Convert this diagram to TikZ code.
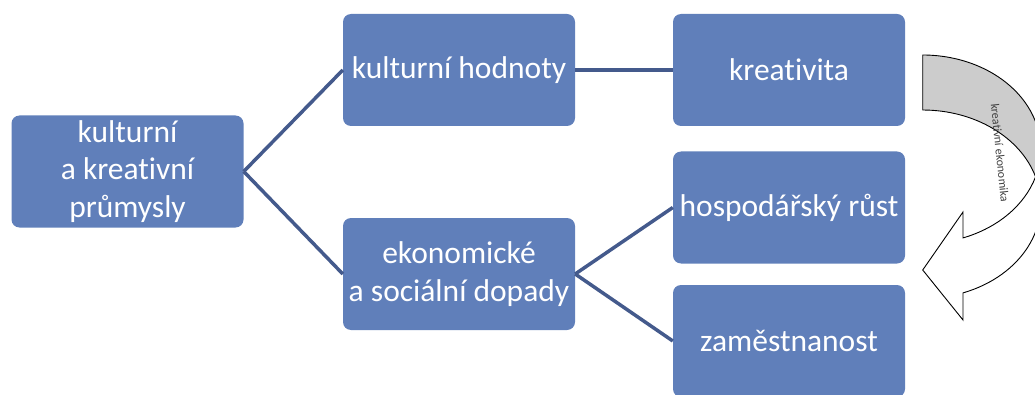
\documentclass[tikz,border=0pt]{standalone}
\usepackage{fontspec}
\setmainfont{Carlito}[Ligatures=NoCommon]
\definecolor{modra}{RGB}{96,127,186}
\definecolor{spojnice}{RGB}{68,90,140}
\definecolor{seda}{RGB}{204,204,204}

\begin{document}
\begin{tikzpicture}[x=1pt,y=1pt,
    blok/.style={fill=modra,rounded corners=8pt,minimum width=232pt,minimum height=112pt,
      inner sep=0pt,text=white,align=center,font=\fontsize{31.5}{37.5}\selectfont},
    spoj/.style={draw=spojnice,line width=3.5pt}]
  \clip (0,0) rectangle (1035,394);
  % boxes
  \node[blok] (prumysly) at (127.5,222.5) {kulturní\\a kreativní\\průmysly};
  \node[blok] (hodnoty) at (459,324) {kulturní hodnoty};
  \node[blok] (dopady) at (459,120) {ekonomické\\a sociální dopady};
  \node[blok] (kreativita) at (789,324) {kreativita};
  \node[blok] (rust) at (789,186.5) {hospodářský růst};
  \node[blok] (zamestnanost) at (789,53) {zaměstnanost};
  % lines
  \draw[spoj] (prumysly.east) -- (hodnoty.west);
  \draw[spoj] (prumysly.east) -- (dopady.west);
  \draw[spoj] (hodnoty.east) -- (kreativita.west);
  \draw[spoj] (dopady.east) -- (rust.west);
  \draw[spoj] (dopady.east) -- (zamestnanost.west);
  % curved arrow, back part
  \draw[fill=seda,line width=0.9pt] (922.7,339)
    arc[start angle=90,end angle=-16.96,x radius=118,y radius=94.3]
    arc[start angle=16.96,end angle=90,x radius=118,y radius=94.3] -- cycle;
  % curved arrow, front part
  \draw[fill=white,line width=0.9pt] (1035.56,217.2)
    arc[start angle=-16.96,end angle=-70.03,x radius=118,y radius=94.3]
    -- (963,182) -- (922.7,124) -- (963,74) -- (963,101.1)
    arc[start angle=-70.03,end angle=16.96,x radius=118,y radius=94.3] -- cycle;
  \node[rotate=-84,text=black!75,font=\fontsize{12}{14}\selectfont] (popis) at (1000,241) {kreativní ekonomika};
\end{tikzpicture}
\end{document}
